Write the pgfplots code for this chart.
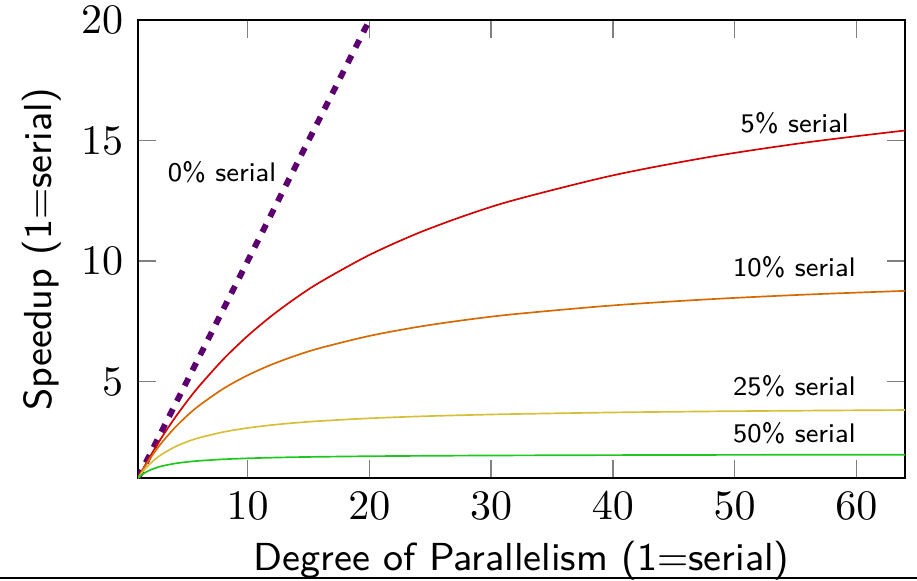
\documentclass[border=0pt]{standalone}
\usepackage{pgfplots}
\pgfplotsset{compat=1.18}

\definecolor{zeroc}{RGB}{92,0,112}
\definecolor{fivec}{RGB}{212,0,0}
\definecolor{tenc}{RGB}{212,106,0}
\definecolor{quarterc}{RGB}{214,192,58}
\definecolor{halfc}{RGB}{30,200,30}

\begin{document}
\begin{tikzpicture}
  \begin{axis}[
      name=ax,
      scale only axis,
      width=182.6pt, height=109pt,
      xmin=1, xmax=64, ymin=1, ymax=20,
      xtick={10,20,...,60}, ytick={5,10,15,20},
      xlabel={Degree of Parallelism (1=serial)},
      ylabel={Speedup (1=serial)},
      label style={font=\sffamily\fontsize{9.3}{11}\selectfont},
      xlabel style={at={(axis description cs:0.5,-0.2009)}, anchor=base},
      ylabel style={at={(axis description cs:-0.1134,0.5)}, anchor=base},
      tick style={gray, thin},
      clip=true,
    ]
    % 0% serial
    \addplot[zeroc, line width=1.4pt, dash pattern=on 2pt off 2.1pt] coordinates {(1,1) (20,20) (21,21)};
    % 5% serial
    \addplot[fivec, smooth] coordinates {
      (1,1) (1.25,1.235) (1.5,1.463) (2,1.905) (2.5,2.326) (3,2.727) (4,3.478) (5,4.167) (6,4.8)
      (8,5.926) (10,6.897) (12,7.742) (14,8.485) (16,9.143) (20,10.256) (24,11.163)
      (28,11.915) (32,12.549) (40,13.559) (48,14.328) (56,14.933) (64,15.422)};
    % 10% serial
    \addplot[tenc, smooth] coordinates {
      (1,1) (1.25,1.220) (1.5,1.429) (2,1.818) (2.5,2.174) (3,2.5) (4,3.077) (5,3.571) (6,4)
      (8,4.706) (10,5.263) (12,5.714) (14,6.087) (16,6.4) (20,6.897) (24,7.273)
      (28,7.568) (32,7.805) (40,8.163) (48,8.421) (56,8.615) (64,8.767)};
    % 25% serial
    \addplot[quarterc, smooth] coordinates {
      (1,1) (1.25,1.176) (1.5,1.333) (2,1.6) (2.5,1.818) (3,2) (4,2.286) (5,2.5) (6,2.667)
      (8,2.909) (10,3.077) (12,3.2) (14,3.294) (16,3.368) (20,3.478) (24,3.556)
      (28,3.613) (32,3.657) (40,3.721) (48,3.765) (56,3.797) (64,3.821)};
    % 50% serial
    \addplot[halfc, smooth] coordinates {
      (1,1) (1.25,1.111) (1.5,1.2) (2,1.333) (2.5,1.429) (3,1.5) (4,1.6) (5,1.667) (6,1.714)
      (8,1.778) (10,1.818) (12,1.846) (14,1.867) (16,1.882) (20,1.905) (24,1.92)
      (28,1.931) (32,1.939) (40,1.951) (48,1.959) (56,1.965) (64,1.969)};
    \begin{scope}[font=\sffamily\fontsize{6.4}{7.5}\selectfont]
      \node at (axis cs:7.9,13.71) {0\% serial};
      \node at (axis cs:54.93,15.73) {5\% serial};
      \node at (axis cs:54.9,9.75) {10\% serial};
      \node at (axis cs:54.9,4.80) {25\% serial};
      \node at (axis cs:54.9,2.85) {50\% serial};
    \end{scope}
  \end{axis}
  \pgfresetboundingbox
  \path[use as bounding box] (ax.south west) ++(-32.86pt,-24.5pt) rectangle ++(218.3pt,138.3pt);
  \draw[line width=0.5pt] (ax.south west) ++(-32.86pt,-23.8pt) -- ++(218.3pt,0);
\end{tikzpicture}
\end{document}
